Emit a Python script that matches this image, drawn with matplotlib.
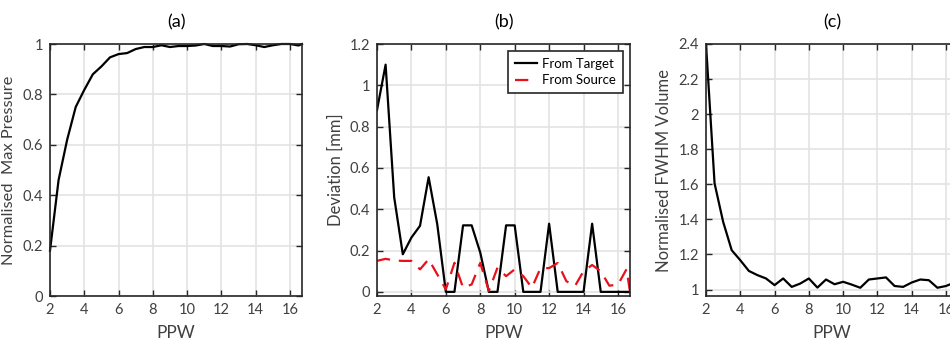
import matplotlib
matplotlib.use("Agg")
import matplotlib.pyplot as plt

plt.rcParams["font.family"] = ["Lato", "DejaVu Sans"]

# PPW sample points (shared by all three panels)
ppw = [2, 2.5, 3, 3.5, 4, 4.5, 5, 5.5, 6, 6.5, 7, 7.5, 8, 8.5, 9, 9.5,
       10, 10.5, 11, 11.5, 12, 12.5, 13, 13.5, 14, 14.5, 15, 15.5, 16, 16.5, 16.7]

# (a) normalised max pressure
max_pressure = [0.18, 0.46, 0.62, 0.75, 0.818, 0.88, 0.911, 0.947, 0.96, 0.964,
                0.98, 0.988, 0.988, 0.995, 0.988, 0.992, 0.992, 0.994, 1.0, 0.992,
                0.992, 0.99, 0.999, 1.0, 0.995, 0.988, 0.995, 1.0, 1.0, 0.994, 1.0]

# (b) focal deviation [mm]
dev_target = [0.88, 1.1, 0.457, 0.182, 0.263, 0.32, 0.555, 0.328, 0.0, 0.0,
              0.322, 0.322, 0.19, 0.0, 0.0, 0.322, 0.322, 0.0, 0.0, 0.0,
              0.33, 0.0, 0.0, 0.0, 0.0, 0.33, 0.0, 0.0, 0.0, 0.0, 0.0]
dev_source = [0.15, 0.16, 0.152, 0.15, 0.15, 0.109, 0.158, 0.085, 0.012, 0.141,
              0.02, 0.036, 0.14, 0.005, 0.117, 0.076, 0.109, 0.076, 0.02, 0.115,
              0.115, 0.14, 0.052, 0.028, 0.10, 0.13, 0.10, 0.03, 0.035, 0.11, 0.0]

# (c) normalised FWHM volume
fwhm_volume = [2.4, 1.605, 1.386, 1.224, 1.167, 1.106, 1.082, 1.063, 1.025, 1.063,
               1.015, 1.034, 1.063, 1.011, 1.057, 1.03, 1.044, 1.028, 1.01, 1.057,
               1.063, 1.069, 1.02, 1.015, 1.04, 1.057, 1.053, 1.01, 1.02, 1.04, 1.03]

W, H = 950, 345
fig = plt.figure(figsize=(W / 100, H / 100), dpi=100)

AX_COL = "#262626"
TXT_COL = "#404040"


def make_ax(left, right, top=44, bottom=296):
    ax = fig.add_axes([left / W, 1 - bottom / H, (right - left) / W, (bottom - top) / H])
    for s in ax.spines.values():
        s.set_color(AX_COL)
        s.set_linewidth(1.2)
    ax.tick_params(direction="in", top=True, right=True, length=4, width=1,
                   color=AX_COL, labelcolor=TXT_COL, labelsize=10.5, pad=5)
    ax.grid(True, color="#e3e3e3", lw=1.2)
    ax.set_axisbelow(True)
    ax.set_xlim(2, 16.7)
    ax.set_xticks([2, 4, 6, 8, 10, 12, 14, 16])
    ax.set_xlabel("PPW", fontsize=12.5, color=TXT_COL, labelpad=6)
    ax.yaxis.set_label_coords(-0.133, 0.5)
    return ax


# (a)
ax1 = make_ax(50, 302)
ax1.plot(ppw, max_pressure, color="black", lw=1.6, clip_on=False)
ax1.set_ylim(0, 1)
ax1.set_yticks([0, 0.2, 0.4, 0.6, 0.8, 1])
ax1.set_yticklabels(["0", "0.2", "0.4", "0.6", "0.8", "1"])
ax1.set_ylabel("Normalised  Max Pressure", fontsize=11.8, color=TXT_COL)
ax1.set_title("(a)", fontsize=13, color="black", pad=12)

# (b)
ax2 = make_ax(377, 630)
ax2.plot(ppw, dev_target, color="black", lw=1.6, label="From Target")
ax2.plot(ppw, dev_source, color="#e8101a", lw=1.6, ls=(0, (6, 4)), label="From Source")
ax2.set_ylim(-0.02, 1.2)
ax2.set_yticks([0, 0.2, 0.4, 0.6, 0.8, 1, 1.2])
ax2.set_yticklabels(["0", "0.2", "0.4", "0.6", "0.8", "1", "1.2"])
ax2.set_ylabel("Deviation [mm]", fontsize=12, color=TXT_COL)
ax2.set_title("(b)", fontsize=13, color="black", pad=12)
leg = ax2.legend(loc="upper right", fontsize=9.5, frameon=True, fancybox=False,
                 edgecolor=AX_COL, framealpha=1, handlelength=1.7,
                 handletextpad=0.4, borderaxespad=0.55, borderpad=0.5,
                 labelspacing=0.35)
leg.get_frame().set_linewidth(1.2)

# (c) -- extends past the right edge of the image, as in the reference
ax3 = make_ax(706, 958)
ax3.plot(ppw, fwhm_volume, color="black", lw=1.6)
ax3.set_ylim(0.963, 2.4)
ax3.set_yticks([1, 1.2, 1.4, 1.6, 1.8, 2, 2.2, 2.4])
ax3.set_yticklabels(["1", "1.2", "1.4", "1.6", "1.8", "2", "2.2", "2.4"])
ax3.set_ylabel("Normalised FWHM Volume", fontsize=12, color=TXT_COL)
ax3.set_title("(c)", fontsize=13, color="black", pad=12)

fig.savefig("out.png", dpi=100)
